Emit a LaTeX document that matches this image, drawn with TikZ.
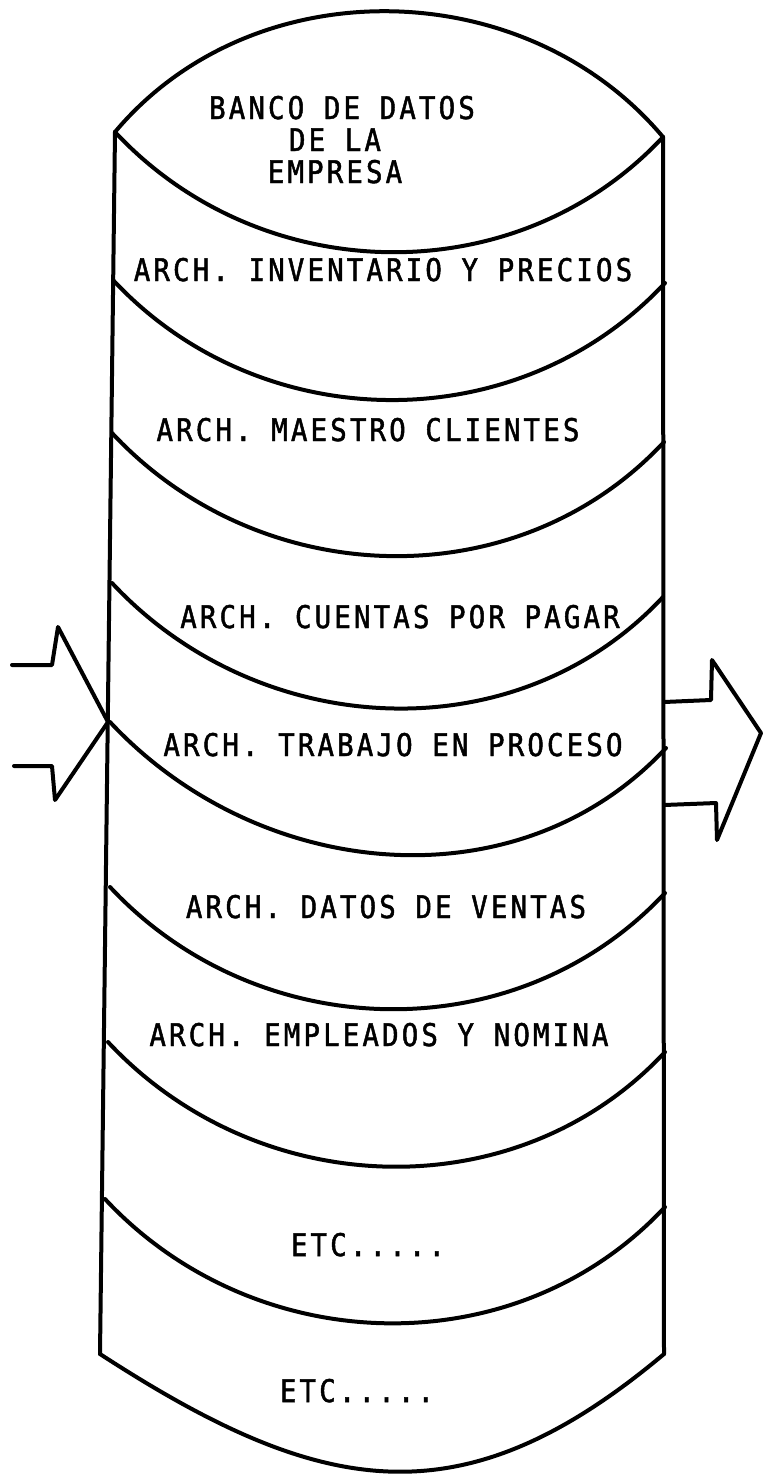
\documentclass[tikz,border=0pt]{standalone}
\usepackage{fontspec}
\newfontfamily\lett[LetterSpace=10,FakeStretch=0.88,FakeBold=1.5]{DejaVu Sans Mono}
\begin{document}
\begin{tikzpicture}[x=0.5pt,y=0.5pt,
  ln/.style={line width=2pt, line join=round, line cap=round},
  lbl/.style={font={\lett\fontsize{15.6pt}{17pt}\selectfont}, inner sep=0pt, anchor=base},
  band/.style={out=-47,in=-133}]
\path[use as bounding box, fill=white] (0,0) rectangle (764,-1474);
% vertices on the two sides of the cylinder
\coordinate (L0) at (115,-132);  \coordinate (R0) at (663,-137);
\coordinate (L2) at (113,-280);  \coordinate (R2) at (665,-283);
\coordinate (L3) at (112,-433);  \coordinate (R3) at (664,-442);
\coordinate (L4) at (112,-583);  \coordinate (R4) at (663,-597);
\coordinate (L5) at (110,-722);  \coordinate (R5) at (666,-748);
\coordinate (L6) at (110,-887);  \coordinate (R6) at (665,-893);
\coordinate (L7) at (108,-1042); \coordinate (R7) at (665,-1052);
\coordinate (L8) at (105,-1199); \coordinate (R8) at (665,-1207);
\coordinate (L9) at (100,-1354); \coordinate (R9) at (664,-1354);
% sides
\draw[ln] (L0) -- (L9);
\draw[ln] (R0) -- (R9);
% top lens
\draw[ln] (L0) to[out=50,in=130] (R0);
\draw[ln] (L0) to[band] (R0);
% band boundaries
\draw[ln] (L2) to[band] (R2);
\draw[ln] (L3) to[band] (R3);
\draw[ln] (L4) to[band] (R4);
\draw[ln] (L5) to[band] (R5);
\draw[ln] (L6) to[band] (R6);
\draw[ln] (L7) to[band] (R7);
\draw[ln] (L8) to[band] (R8);
\draw[ln] (L9) to[out=-33,in=-140,looseness=1.2] (R9);
% labels
\node[lbl] (t1) at (342,-119) {BANCO DE DATOS};
\node[lbl] (t2) at (335,-151) {DE LA};
\node[lbl] (t3) at (335,-183) {EMPRESA};
\node[lbl] (f1) at (383,-281) {ARCH. INVENTARIO Y PRECIOS};
\node[lbl] (f2) at (368,-441) {ARCH. MAESTRO CLIENTES};
\node[lbl] (f3) at (400,-628) {ARCH. CUENTAS POR PAGAR};
\node[lbl] (f4) at (393,-756) {ARCH. TRABAJO EN PROCESO};
\node[lbl] (f5) at (386,-918) {ARCH. DATOS DE VENTAS};
\node[lbl] (f6) at (379,-1046) {ARCH. EMPLEADOS Y NOMINA};
\node[lbl] (f7) at (368,-1256) {ETC.....};
\node[lbl] (f8) at (357,-1402) {ETC.....};
% input arrow (left)
\coordinate (ia1) at (12,-665);  \coordinate (ia2) at (52,-665);
\coordinate (ia3) at (58,-627);  \coordinate (iat) at (108,-722);
\coordinate (ia4) at (55,-800);  \coordinate (ia5) at (52,-766);
\coordinate (ia6) at (14,-766);
\draw[ln] (ia1) -- (ia2) -- (ia3) -- (iat) -- (ia4) -- (ia5) -- (ia6);
% output arrow (right)
\coordinate (oa1) at (664,-702); \coordinate (oa2) at (711,-700);
\coordinate (oa3) at (712,-660); \coordinate (oat) at (761,-733);
\coordinate (oa4) at (717,-840); \coordinate (oa5) at (716,-803);
\coordinate (oa6) at (664,-805);
\draw[ln] (oa1) -- (oa2) -- (oa3) -- (oat) -- (oa4) -- (oa5) -- (oa6);
\end{tikzpicture}
\end{document}
